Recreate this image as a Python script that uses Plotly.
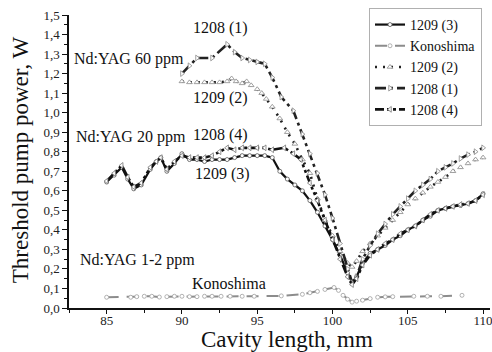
import plotly.graph_objects as go

# ---------------- data ----------------
x_1209_3 = [85, 85.5, 86, 86.4, 86.8, 87.3, 87.9, 88.3, 88.6, 89.0, 89.5, 90.0, 90.5, 91.0, 91.5,
            92, 92.5, 93, 93.5, 94, 94.5, 95, 95.5, 96, 96.5, 97, 97.5, 98, 98.5, 99, 99.5, 100,
            100.5, 101, 101.3, 101.6, 102, 102.5, 103, 103.5, 104, 104.5, 105, 105.5, 106, 106.5,
            107, 107.5, 108, 108.5, 109, 109.5, 110]
y_1209_3 = [0.645, 0.68, 0.72, 0.66, 0.61, 0.63, 0.71, 0.75, 0.77, 0.70, 0.74, 0.79, 0.76, 0.76, 0.75,
            0.76, 0.76, 0.76, 0.77, 0.78, 0.78, 0.78, 0.78, 0.77, 0.70, 0.66, 0.63, 0.60, 0.55, 0.49,
            0.42, 0.35, 0.27, 0.18, 0.13, 0.16, 0.23, 0.28, 0.30, 0.32, 0.35, 0.37, 0.40, 0.42, 0.45,
            0.47, 0.50, 0.51, 0.52, 0.525, 0.535, 0.55, 0.585]

x_konoshima = [85, 86.6, 87, 87.5, 88, 88.5, 89, 89.5, 90, 90.5, 91, 91.5, 92, 92.6, 93.2, 94.0,
               94.8, 96.6, 98, 98.5, 99, 99.5, 100.1, 100.4, 100.7, 101.0, 101.3, 101.6, 102, 102.5,
               103, 103.5, 104, 105.4, 106.3, 107.2, 108.6]
y_konoshima = [0.055, 0.055, 0.058, 0.06, 0.06, 0.056, 0.058, 0.06, 0.06, 0.058, 0.058, 0.06, 0.06,
               0.06, 0.06, 0.06, 0.06, 0.062, 0.07, 0.078, 0.085, 0.095, 0.105, 0.09, 0.065, 0.045,
               0.03, 0.035, 0.04, 0.048, 0.055, 0.057, 0.058, 0.06, 0.06, 0.06, 0.065]

x_1209_2 = [90.0, 90.5, 91.0, 91.5, 92.0, 92.5, 93.0, 93.3, 93.6, 94.0, 94.3, 94.6, 95.0, 95.3, 95.6,
            96.0, 96.5, 97.0, 97.5, 98.0, 98.5, 99.0, 99.5, 100.0, 100.5, 101.0, 101.3, 101.6, 102.0,
            102.5, 103.0, 103.5, 104.0, 104.5, 105.0, 105.5, 106.0, 106.5, 107.0, 107.5, 108.0,
            108.5, 109.0, 109.5, 110.0]
y_1209_2 = [1.16, 1.155, 1.155, 1.155, 1.155, 1.155, 1.16, 1.175, 1.16, 1.15, 1.16, 1.14, 1.12, 1.10,
            1.07, 1.03, 0.97, 0.90, 0.84, 0.76, 0.69, 0.56, 0.45, 0.37, 0.29, 0.23, 0.21, 0.24, 0.29,
            0.33, 0.37, 0.41, 0.45, 0.49, 0.53, 0.56, 0.59, 0.62, 0.645, 0.67, 0.70, 0.72, 0.74,
            0.76, 0.77]

x_1208_1 = [90.0, 90.5, 91.0, 92.0, 93.0, 93.5, 94.0, 94.5, 95.0, 95.5, 96.0, 96.6, 97.4, 98.0,
            98.5, 99.0, 99.5, 100.0, 100.5, 101.0, 101.3, 101.6, 102.0, 102.5, 103.0, 103.5, 104.0,
            104.5, 105.0, 105.5, 106.0, 106.5, 107.0, 107.5, 108.0, 108.5, 109.0, 109.5, 110.0]
y_1208_1 = [1.20, 1.24, 1.28, 1.28, 1.35, 1.31, 1.28, 1.27, 1.26, 1.25, 1.18, 1.08, 1.01, 0.89,
            0.79, 0.69, 0.58, 0.46, 0.33, 0.20, 0.13, 0.16, 0.25, 0.32, 0.38, 0.43, 0.48, 0.52,
            0.56, 0.60, 0.63, 0.66, 0.70, 0.72, 0.74, 0.765, 0.785, 0.80, 0.82]

x_1208_4 = [85, 85.5, 86, 86.4, 86.8, 87.3, 87.9, 88.3, 88.6, 89.0, 89.5, 90.0, 90.5, 91.0, 91.5,
            92, 92.5, 93, 93.5, 94, 94.5, 95, 95.5, 96, 96.8, 97.4, 97.9, 98.5, 99, 99.5, 100,
            100.5, 101, 101.3, 101.6, 102, 102.5, 103, 103.5, 104, 104.5, 105, 105.5, 106, 106.5,
            107, 107.5, 108, 108.5, 109, 109.5, 110]
y_1208_4 = [0.65, 0.69, 0.73, 0.67, 0.62, 0.64, 0.72, 0.75, 0.77, 0.71, 0.75, 0.78, 0.77, 0.77, 0.77,
            0.78, 0.80, 0.82, 0.81, 0.82, 0.82, 0.82, 0.82, 0.81, 0.82, 0.79, 0.76, 0.64, 0.55,
            0.45, 0.35, 0.25, 0.16, 0.12, 0.15, 0.22, 0.27, 0.30, 0.33, 0.35, 0.38, 0.40, 0.42,
            0.45, 0.48, 0.50, 0.51, 0.52, 0.53, 0.535, 0.55, 0.58]

y_ticks = [0.0, 0.1, 0.2, 0.3, 0.4, 0.5, 0.6, 0.7, 0.8, 0.9, 1.0, 1.1, 1.2, 1.3, 1.4, 1.5]
x_ticks = [85, 90, 95, 100, 105, 110]

# annotation labels (text, x, y in data units)
labels = [
    ("1208 (1)", 92.57, 1.434),
    ("Nd:YAG 60 ppm", 86.46, 1.275),
    ("1209 (2)", 92.57, 1.075),
    ("Nd:YAG 20 ppm", 86.6, 0.875),
    ("1208 (4)", 92.57, 0.886),
    ("1209 (3)", 92.7, 0.686),
    ("Nd:YAG 1-2 ppm", 87.06, 0.245),
    ("Konoshima", 93.1, 0.127),
]

SERIF = "Liberation Serif"

fig = go.Figure()

fig.add_trace(go.Scatter(
    x=x_1209_3, y=y_1209_3, name="1209 (3)", mode="lines+markers",
    line=dict(color="#111111", width=2.2),
    marker=dict(symbol="circle", size=4, color="white", line=dict(color="#555555", width=0.8))))

fig.add_trace(go.Scatter(
    x=x_konoshima, y=y_konoshima, name="Konoshima", mode="lines+markers",
    line=dict(color="#8c8c8c", width=2, dash="12px,8px"),
    marker=dict(symbol="circle", size=4, color="white", line=dict(color="#a0a0a0", width=0.8))))

fig.add_trace(go.Scatter(
    x=x_1209_2, y=y_1209_2, name="1209 (2)", mode="lines+markers",
    line=dict(color="#222222", width=2.6, dash="2px,6px"),
    marker=dict(symbol="triangle-up", size=5, color="white", line=dict(color="#8a8a8a", width=0.8))))

fig.add_trace(go.Scatter(
    x=x_1208_1, y=y_1208_1, name="1208 (1)", mode="lines+markers",
    line=dict(color="#222222", width=2.6, dash="11px,4px,3px,4px"),
    marker=dict(symbol="triangle-right", size=5, color="white", line=dict(color="#8a8a8a", width=0.8))))

fig.add_trace(go.Scatter(
    x=x_1208_4, y=y_1208_4, name="1208 (4)", mode="lines+markers",
    line=dict(color="#111111", width=2.6, dash="9px,3px,3px,3px,3px,3px"),
    marker=dict(symbol="triangle-left", size=5, color="white", line=dict(color="#777777", width=0.8))))

for text, ax, ay in labels:
    fig.add_annotation(x=ax, y=ay, xref="x", yref="y", text=text, showarrow=False,
                       font=dict(family=SERIF, size=16, color="#111111"))

# axis titles
fig.add_annotation(x=0.518, y=-0.1075, xref="paper", yref="paper", text="Cavity length, mm",
                   showarrow=False, xanchor="center", yanchor="middle", borderpad=0,
                   font=dict(family=SERIF, size=23, color="#111111"))
fig.add_annotation(x=-0.116, y=0.505, xref="paper", yref="paper", text="Threshold pump power, W",
                   showarrow=False, xanchor="center", yanchor="middle", textangle=-90,
                   font=dict(family=SERIF, size=23, color="#111111"))

fig.update_layout(
    width=492, height=352,
    margin=dict(l=69, r=2, t=15, b=44, autoexpand=False),
    paper_bgcolor="white", plot_bgcolor="white",
    separators=", ",
    font=dict(family=SERIF),
    showlegend=True,
    legend=dict(x=0.7126, y=1.024, xanchor="left", yanchor="top",
                bgcolor="white", bordercolor="#b0b0b0", borderwidth=1,
                font=dict(family=SERIF, size=14, color="#111111"),
                traceorder="normal", tracegroupgap=0),
    xaxis=dict(range=[82.5, 110.46], tickvals=x_ticks, ticktext=[str(v) for v in x_ticks],
               showgrid=False, zeroline=False, showline=True, linecolor="#111111", linewidth=1.5,
               ticks="outside", ticklen=4, tickwidth=1.2, tickcolor="#111111",
               ticklabeloverflow="allow", ticklabelstandoff=-4,
               minor=dict(dtick=2.5, tick0=85, ticks="outside", ticklen=3, tickcolor="#111111", showgrid=False),
               tickfont=dict(family=SERIF, size=13, color="#222222")),
    yaxis=dict(range=[0, 1.5], tickvals=y_ticks, tickformat=".1f",
               showgrid=False, zeroline=False, showline=True, linecolor="#111111", linewidth=1.5,
               ticks="outside", ticklen=5, tickwidth=1.2, tickcolor="#111111",
               minor=dict(dtick=0.05, tick0=0, ticks="outside", ticklen=3, tickcolor="#111111", showgrid=False),
               tickfont=dict(family=SERIF, size=13, color="#222222")),
)

fig.write_html("out.html")
